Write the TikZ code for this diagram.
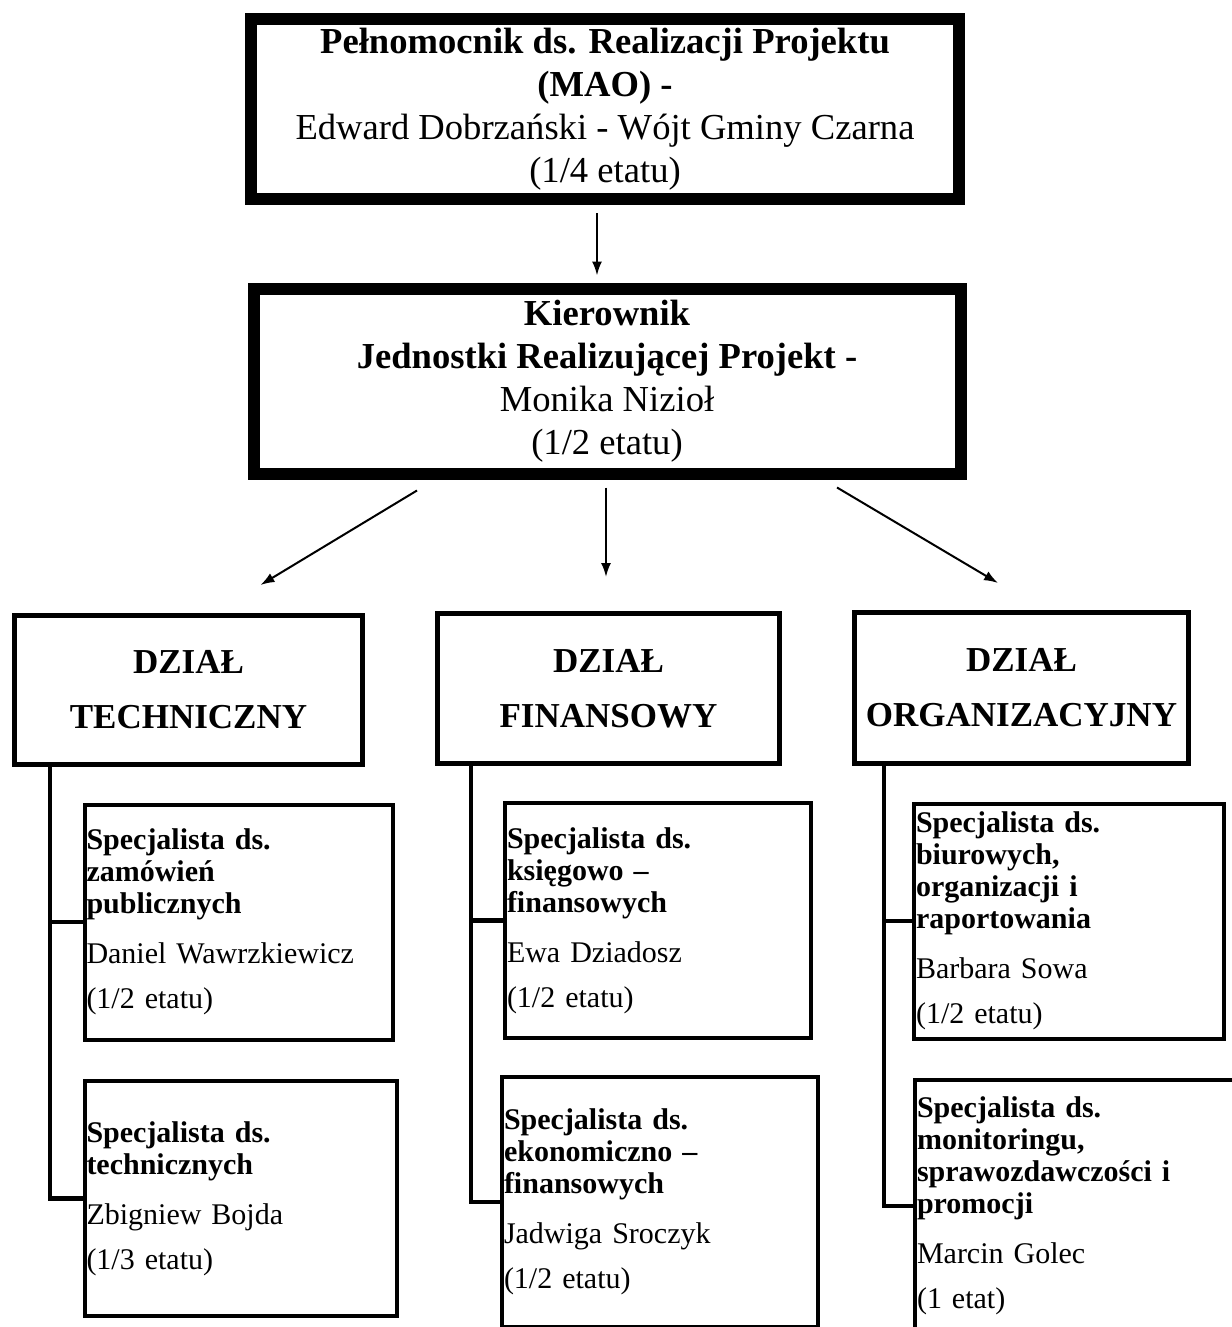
\documentclass[tikz,border=0pt]{standalone}
\usepackage{fontspec}
\setmainfont{Liberation Serif}
\usetikzlibrary{arrows.meta}
\begin{document}
\begin{tikzpicture}[x=0.5pt,y=-0.5pt,
  topbox/.style={draw,line width=6pt,align=center,inner sep=0pt,
    font=\fontsize{18.3}{21.5}\selectfont},
  dzial/.style={draw,line width=2.5pt,align=center,inner sep=0pt,
    font=\bfseries\fontsize{17.5}{27.5}\selectfont},
  spec/.style={draw,line width=2pt,align=left,inner xsep=1pt,inner ysep=0pt,
    text width=152pt,minimum height=117.5pt,font=\fontsize{15}{16}\selectfont},
  arr/.style={line width=1pt,-{Latex[length=7pt,width=5pt]}},
  conn/.style={line width=2.2pt}]
\useasboundingbox (0,0) rectangle (1231,1327);
\node[topbox,minimum width=354pt,minimum height=90pt] (mao) at (605,109)
  {\textbf{Pełnomocnik ds. Realizacji Projektu}\\\textbf{(MAO) -}\\
   Edward Dobrzański - Wójt Gminy Czarna\\(1/4 etatu)};
\node[topbox,minimum width=353.5pt,minimum height=92.5pt] (kier) at (607,381)
  {\textbf{Kierownik}\\\textbf{Jednostki Realizującej Projekt -}\\
   Monika Nizioł\\(1/2 etatu)};
\node[dzial,minimum width=174pt,minimum height=74.5pt] (tech) at (188.5,690)
  {DZIAŁ\\TECHNICZNY};
\node[dzial,minimum width=171pt,minimum height=75pt] (fin) at (608.5,688.5)
  {DZIAŁ\\FINANSOWY};
\node[dzial,minimum width=167pt,minimum height=75.5pt] (org) at (1021.5,688)
  {DZIAŁ\\ORGANIZACYJNY};
\node[spec] (spZam) at (238.5,922)
  {\bfseries Specjalista ds.\\zamówień\\publicznych\\[9pt]\mdseries
   Daniel Wawrzkiewicz\\[6.5pt](1/2 etatu)};
\node[spec,text width=154pt] (spTech) at (240.5,1198.5)
  {\bfseries Specjalista ds.\\technicznych\\[9pt]\mdseries
   Zbigniew Bojda\\[6.5pt](1/3 etatu)};
\node[spec,text width=151pt] (spKsieg) at (658,920.5)
  {\bfseries Specjalista ds.\\księgowo –\\finansowych\\[9pt]\mdseries
   Ewa Dziadosz\\[6.5pt](1/2 etatu)};
\node[spec,text width=156pt,minimum height=125pt] (spEkon) at (660,1202)
  {\bfseries Specjalista ds.\\ekonomiczno –\\finansowych\\[9pt]\mdseries
   Jadwiga Sroczyk\\[6.5pt](1/2 etatu)};
\node[spec,text width=153pt] (spBiur) at (1069,921)
  {\bfseries Specjalista ds.\\biurowych,\\organizacji i\\raportowania\\[9pt]\mdseries
   Barbara Sowa\\[6.5pt](1/2 etatu)};
\node[spec,text width=162pt,minimum height=126.5pt] (spMon) at (1079,1206)
  {\bfseries Specjalista ds.\\monitoringu,\\sprawozdawczości i\\promocji\\[9pt]\mdseries
   Marcin Golec\\[6.5pt](1 etat)};
\draw[arr] ([xshift=-4pt,yshift=-4pt]mao.south) -- ([xshift=-5pt,yshift=3.5pt]kier.north);
\draw[arr] ([xshift=-95pt,yshift=-5.5pt]kier.south) -- ([xshift=36pt,yshift=14pt]tech.north);
\draw[arr] ([xshift=-0.5pt,yshift=-4pt]kier.south) -- ([xshift=-1.25pt,yshift=17pt]fin.north);
\draw[arr] ([xshift=115pt,yshift=-4pt]kier.south) -- ([xshift=-11.75pt,yshift=13.5pt]org.north);
\draw[conn] ([xshift=19pt]tech.south west) |- (spZam.west);
\draw[conn] ([xshift=19pt]tech.south west) |- (spTech.west);
\draw[conn] ([xshift=18pt]fin.south west) |- (spKsieg.west);
\draw[conn] ([xshift=18pt]fin.south west) |- (spEkon.west);
\draw[conn] ([xshift=16pt]org.south west) |- (spBiur.west);
\draw[conn] ([xshift=16pt]org.south west) |- (spMon.west);
\end{tikzpicture}
\end{document}
